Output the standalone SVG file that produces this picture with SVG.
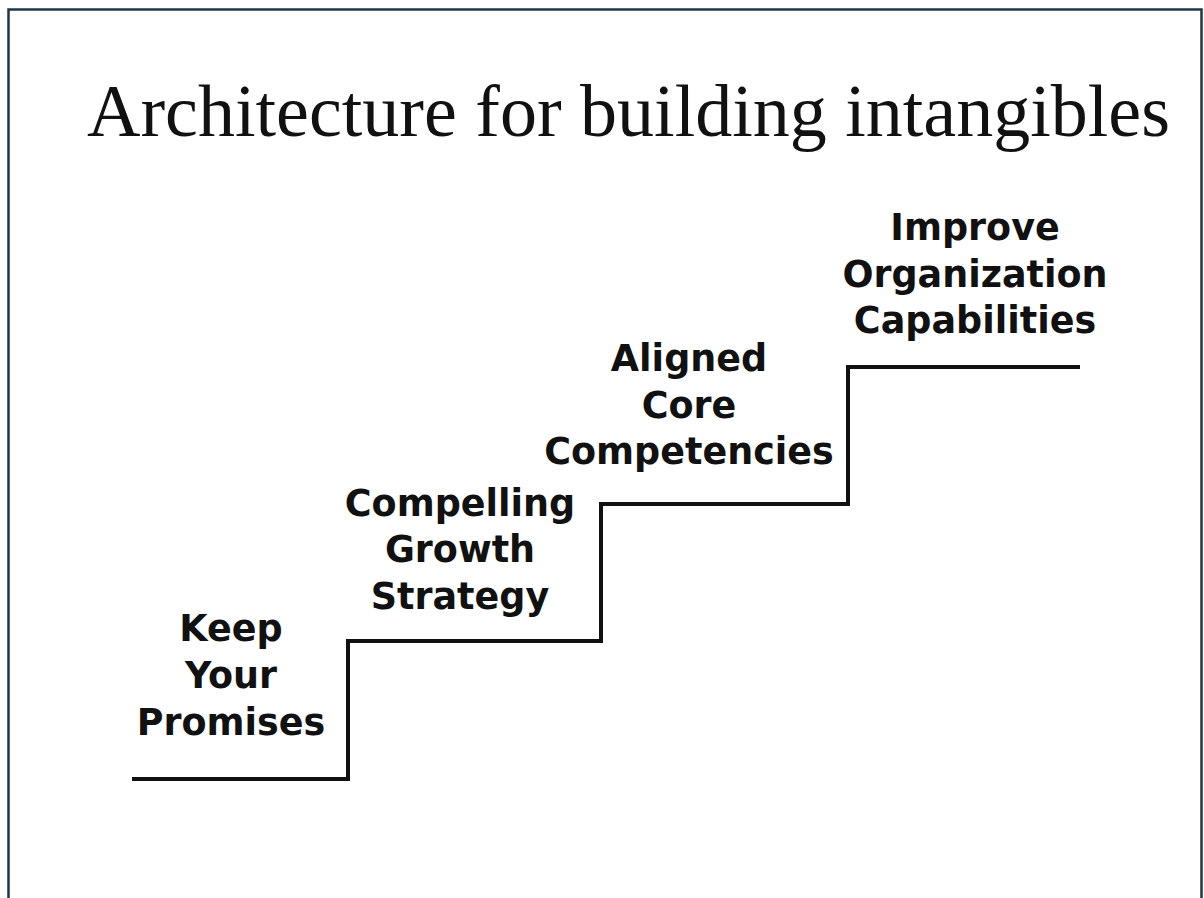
<svg xmlns="http://www.w3.org/2000/svg" width="1204" height="898" viewBox="0 0 1204 898">
<style>
.frame{fill:none;stroke:#1d3848;stroke-width:2.5}
.title{font-family:"Liberation Serif","Times New Roman",serif;font-size:74px;fill:#111}
.lbl{font-family:"DejaVu Sans","Verdana",sans-serif;font-weight:bold;font-size:36.5px;fill:#111;text-anchor:middle}
.step{fill:none;stroke:#111;stroke-width:4;stroke-linecap:square;stroke-linejoin:miter}
</style>
<rect width="1204" height="898" fill="#fff"/>
<path class="frame" d="M8.5,900 V9.5 H1201.5 V900"/>
<text class="title" x="87" y="136">Architecture for building intangibles</text>
<g id="connectors">
<path class="step" d="M134,779 H348 V641 H601 V504 H848 V367 H1078"/>
</g>
<g id="step1"><text class="lbl" x="231"><tspan x="231" y="641">Keep</tspan><tspan x="231" y="688">Your</tspan><tspan x="231" y="735">Promises</tspan></text></g>
<g id="step2"><text class="lbl" x="460"><tspan x="460" y="516">Compelling</tspan><tspan x="460" y="562">Growth</tspan><tspan x="460" y="609">Strategy</tspan></text></g>
<g id="step3"><text class="lbl" x="689"><tspan x="689" y="371">Aligned</tspan><tspan x="689" y="418">Core</tspan><tspan x="689" y="464">Competencies</tspan></text></g>
<g id="step4"><text class="lbl" x="975"><tspan x="975" y="240">Improve</tspan><tspan x="975" y="287">Organization</tspan><tspan x="975" y="333">Capabilities</tspan></text></g>
</svg>
